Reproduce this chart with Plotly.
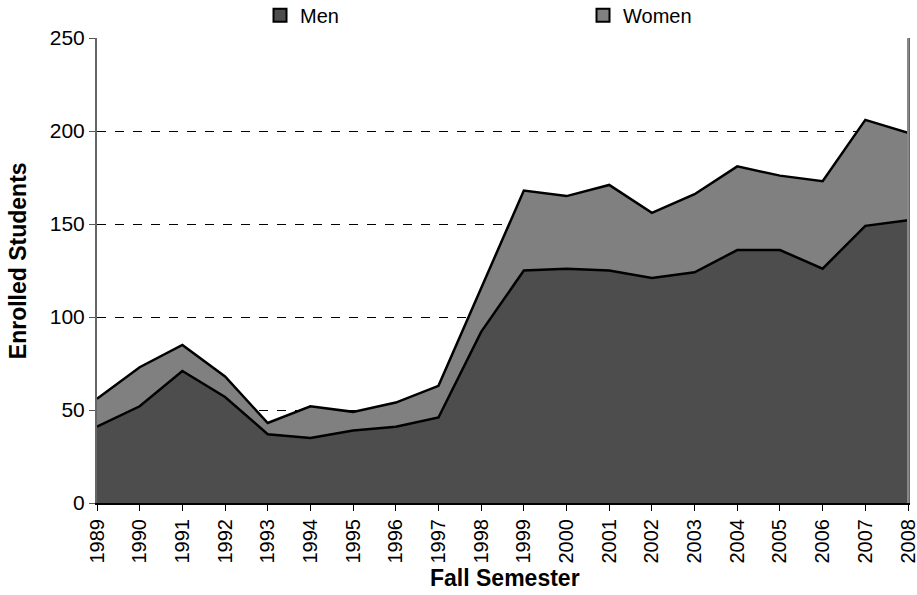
import plotly.graph_objects as go

years = list(range(1989, 2009))
men = [41, 52, 71, 57, 37, 35, 39, 41, 46, 92, 125, 126, 125, 121, 124, 136, 136, 126, 149, 152]
women = [15, 21, 14, 11, 6, 17, 10, 13, 17, 24, 43, 39, 46, 35, 42, 45, 40, 47, 57, 47]
y_ticks = [0, 50, 100, 150, 200, 250]
series_names = ["Men", "Women"]
fill_colors = ["#4d4d4d", "#808080"]

fig = go.Figure()
for name, vals, col in zip(series_names, [men, women], fill_colors):
    fig.add_trace(go.Scatter(x=years, y=vals, name=name, stackgroup="one", mode="lines",
                             line=dict(color="black", width=2.5), fillcolor=col,
                             showlegend=False))
# legend squares
for name, col in zip(series_names, fill_colors):
    fig.add_trace(go.Scatter(x=[None], y=[None], name=name, mode="markers",
                             marker=dict(symbol="square", size=13, color=col,
                                         line=dict(color="black", width=2))))

fig.update_layout(
    width=917, height=595,
    margin=dict(l=97, r=9, t=38, b=92, autoexpand=False),
    paper_bgcolor="white", plot_bgcolor="white",
    font=dict(family="Liberation Sans, Arial, sans-serif", color="black", size=16),
    showlegend=True,
    legend=dict(orientation="h", x=0.201, y=1.049, yanchor="middle", xanchor="left",
                entrywidth=278, entrywidthmode="pixels", font=dict(size=20),
                traceorder="normal", bgcolor="rgba(0,0,0,0)"),
    xaxis=dict(range=[1989, 2008], tickmode="array", tickvals=years,
               ticktext=[str(y) for y in years], tickangle=-90,
               ticks="outside", ticklen=6, tickcolor="black",
               showgrid=False, zeroline=False, automargin=False,
               ticklabeloverflow="allow",
               showline=True, linecolor="black", linewidth=2,
               tickfont=dict(size=20)),
    yaxis=dict(range=[0, 250], tickvals=y_ticks, ticks="outside", ticklen=6, tickcolor="#555",
               showgrid=True, gridcolor="black", griddash="dash", gridwidth=1,
               zeroline=False, showline=True, linecolor="#666", linewidth=2, mirror=True,
               automargin=False, tickfont=dict(size=21)),
    annotations=[
        dict(text="<b>Fall Semester</b>", xref="paper", yref="paper", x=0.503, y=0,
             yshift=-75, showarrow=False, font=dict(size=23), xanchor="center", yanchor="middle"),
        dict(text="<b>Enrolled Students</b>", xref="paper", yref="paper", x=0, y=0.52,
             xshift=-79, showarrow=False, font=dict(size=23), textangle=-90,
             xanchor="center", yanchor="middle"),
    ],
)
fig.add_shape(type="line", xref="paper", yref="paper", x0=1, x1=1, y0=0, y1=1,
              line=dict(color="#888", width=2))
fig.write_html("out.html", config={"displayModeBar": False},
               post_script="document.body.style.margin='0px';")
